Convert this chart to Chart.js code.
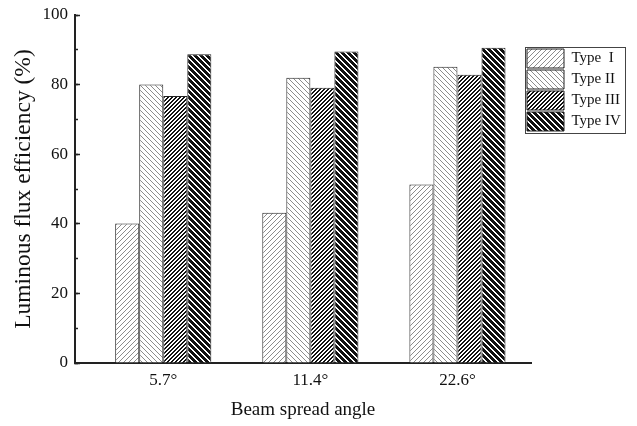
<!DOCTYPE html>
<html><head><meta charset="utf-8">
<script src="https://cdn.jsdelivr.net/npm/chart.js@4/dist/chart.umd.min.js"></script>
<style>html,body{margin:0;padding:0;background:#fff;}</style>
</head><body>
<canvas id="c" width="637" height="426"></canvas>
<script>
const categories = ['5.7\u00B0', '11.4\u00B0', '22.6\u00B0'];
const seriesNames = ['Type  I', 'Type II', 'Type III', 'Type IV'];
const typeI = [40.1, 43.2, 51.3];
const typeII = [80.0, 82.0, 85.1];
const typeIII = [76.7, 79.1, 82.8];
const typeIV = [88.7, 89.5, 90.6];
const yTicks = [0, 20, 40, 60, 80, 100];
const yMinorTicks = [0, 10, 20, 30, 40, 50, 60, 70, 80, 90, 100];

const F = 'Liberation Serif';
const canvas = document.getElementById('c');
const mainCtx = canvas.getContext('2d');

function hatch(dir, period, on, color) {
  const c = document.createElement('canvas');
  c.width = period; c.height = period;
  const g = c.getContext('2d');
  g.fillStyle = '#fff'; g.fillRect(0, 0, period, period);
  g.fillStyle = color;
  for (let y = 0; y < period; y++) for (let x = 0; x < period; x++) {
    const k = dir === '/' ? (x + y) % period : (((x - y) % period) + period) % period;
    if (k < on) g.fillRect(x, y, 1, 1);
  }
  return mainCtx.createPattern(c, 'repeat');
}

const fills = [
  hatch('/', 5, 1, '#8c8c8c'),
  hatch('\\', 5, 1, '#8c8c8c'),
  hatch('/', 4, 2, '#111'),
  hatch('\\', 6, 4, '#111')
];
const series = [typeI, typeII, typeIII, typeIV];

const datasets = series.map((vals, i) => ({
  label: seriesNames[i],
  data: vals.map((v, j) => ({ x: j + 1, y: v })),
  backgroundColor: fills[i],
  borderColor: '#222',
  borderWidth: 1,
  categoryPercentage: 0.6535,
  barPercentage: 1
}));

const legendPlace = {
  id: 'legendPlace',
  afterLayout(chart) {
    const L = chart.legend;
    const w = L.width, h = L.height;
    L.left = 525; L.top = 47; L.right = L.left + w; L.bottom = L.top + h;
  },
  afterDraw(chart) {
    const L = chart.legend;
    const hb = L.legendHitBoxes;
    if (!hb || !hb.length) return;
    let l = Infinity, t = Infinity, r = -Infinity, b = -Infinity;
    hb.forEach(h => { l = Math.min(l, h.left); t = Math.min(t, h.top); r = Math.max(r, h.left + h.width); b = Math.max(b, h.top + h.height); });
    const c = chart.ctx;
    c.save();
    c.strokeStyle = '#444';
    c.lineWidth = 1;
    c.strokeRect(Math.round(l - 2) + 0.5, Math.round(t - 2) + 0.5, Math.round(r - l + 6), Math.round(b - t + 4));
    c.restore();
  }
};

new Chart(canvas, {
  type: 'bar',
  data: { datasets },
  plugins: [legendPlace],
  options: {
    responsive: false,
    animation: false,
    devicePixelRatio: 1,
    layout: { padding: { top: 15, right: 106, bottom: 0, left: 0 } },
    plugins: {
      tooltip: { enabled: false },
      legend: {
        position: 'chartArea',
        align: 'start',
        labels: { boxWidth: 37, boxHeight: 19, padding: 2, font: { family: F, size: 15 }, color: '#111' }
      }
    },
    scales: {
      x: {
        type: 'linear', min: 0.4, max: 3.5, offset: false,
        afterBuildTicks: s => { s.ticks = categories.map((_, i) => ({ value: i + 1 })); },
        ticks: { callback: v => categories[Math.round(v) - 1] ?? '', font: { family: F, size: 17 }, color: '#111', padding: 7, maxRotation: 0, autoSkip: false },
        grid: { display: false, drawTicks: false, tickLength: 0 },
        border: { display: true, color: '#222', width: 2 },
        title: { display: true, text: 'Beam spread angle', font: { family: F, size: 19 }, color: '#111', padding: { top: 0, bottom: 5 } },
        afterFit: s => { s.height = 63; }
      },
      y: {
        type: 'linear', position: 'left', weight: 1, min: 0, max: 100,
        afterBuildTicks: s => { s.ticks = yTicks.map(v => ({ value: v })); },
        ticks: { font: { family: F, size: 17 }, color: '#111', padding: 12 },
        grid: { drawOnChartArea: false, drawTicks: true, tickLength: -5, tickWidth: 1.5, tickColor: '#222' },
        border: { display: true, color: '#222', width: 2 },
        title: { display: true, text: 'Luminous flux efficiency (%)', font: { family: F, size: 23.5 }, color: '#111', padding: { top: 10, bottom: 0 } },
        afterFit: s => { s.width = 75; s.paddingTop = 0; s.paddingBottom = 0; }
      },
      yMinor: {
        type: 'linear', position: 'left', weight: 0, min: 0, max: 100,
        afterBuildTicks: s => { s.ticks = yMinorTicks.map(v => ({ value: v })); },
        ticks: { display: false },
        grid: { drawOnChartArea: false, drawTicks: true, tickLength: -3, tickWidth: 1.5, tickColor: '#222' },
        border: { display: false },
        afterFit: s => { s.width = 0; s.paddingTop = 0; s.paddingBottom = 0; }
      }
    }
  }
});
</script>
</body></html>
